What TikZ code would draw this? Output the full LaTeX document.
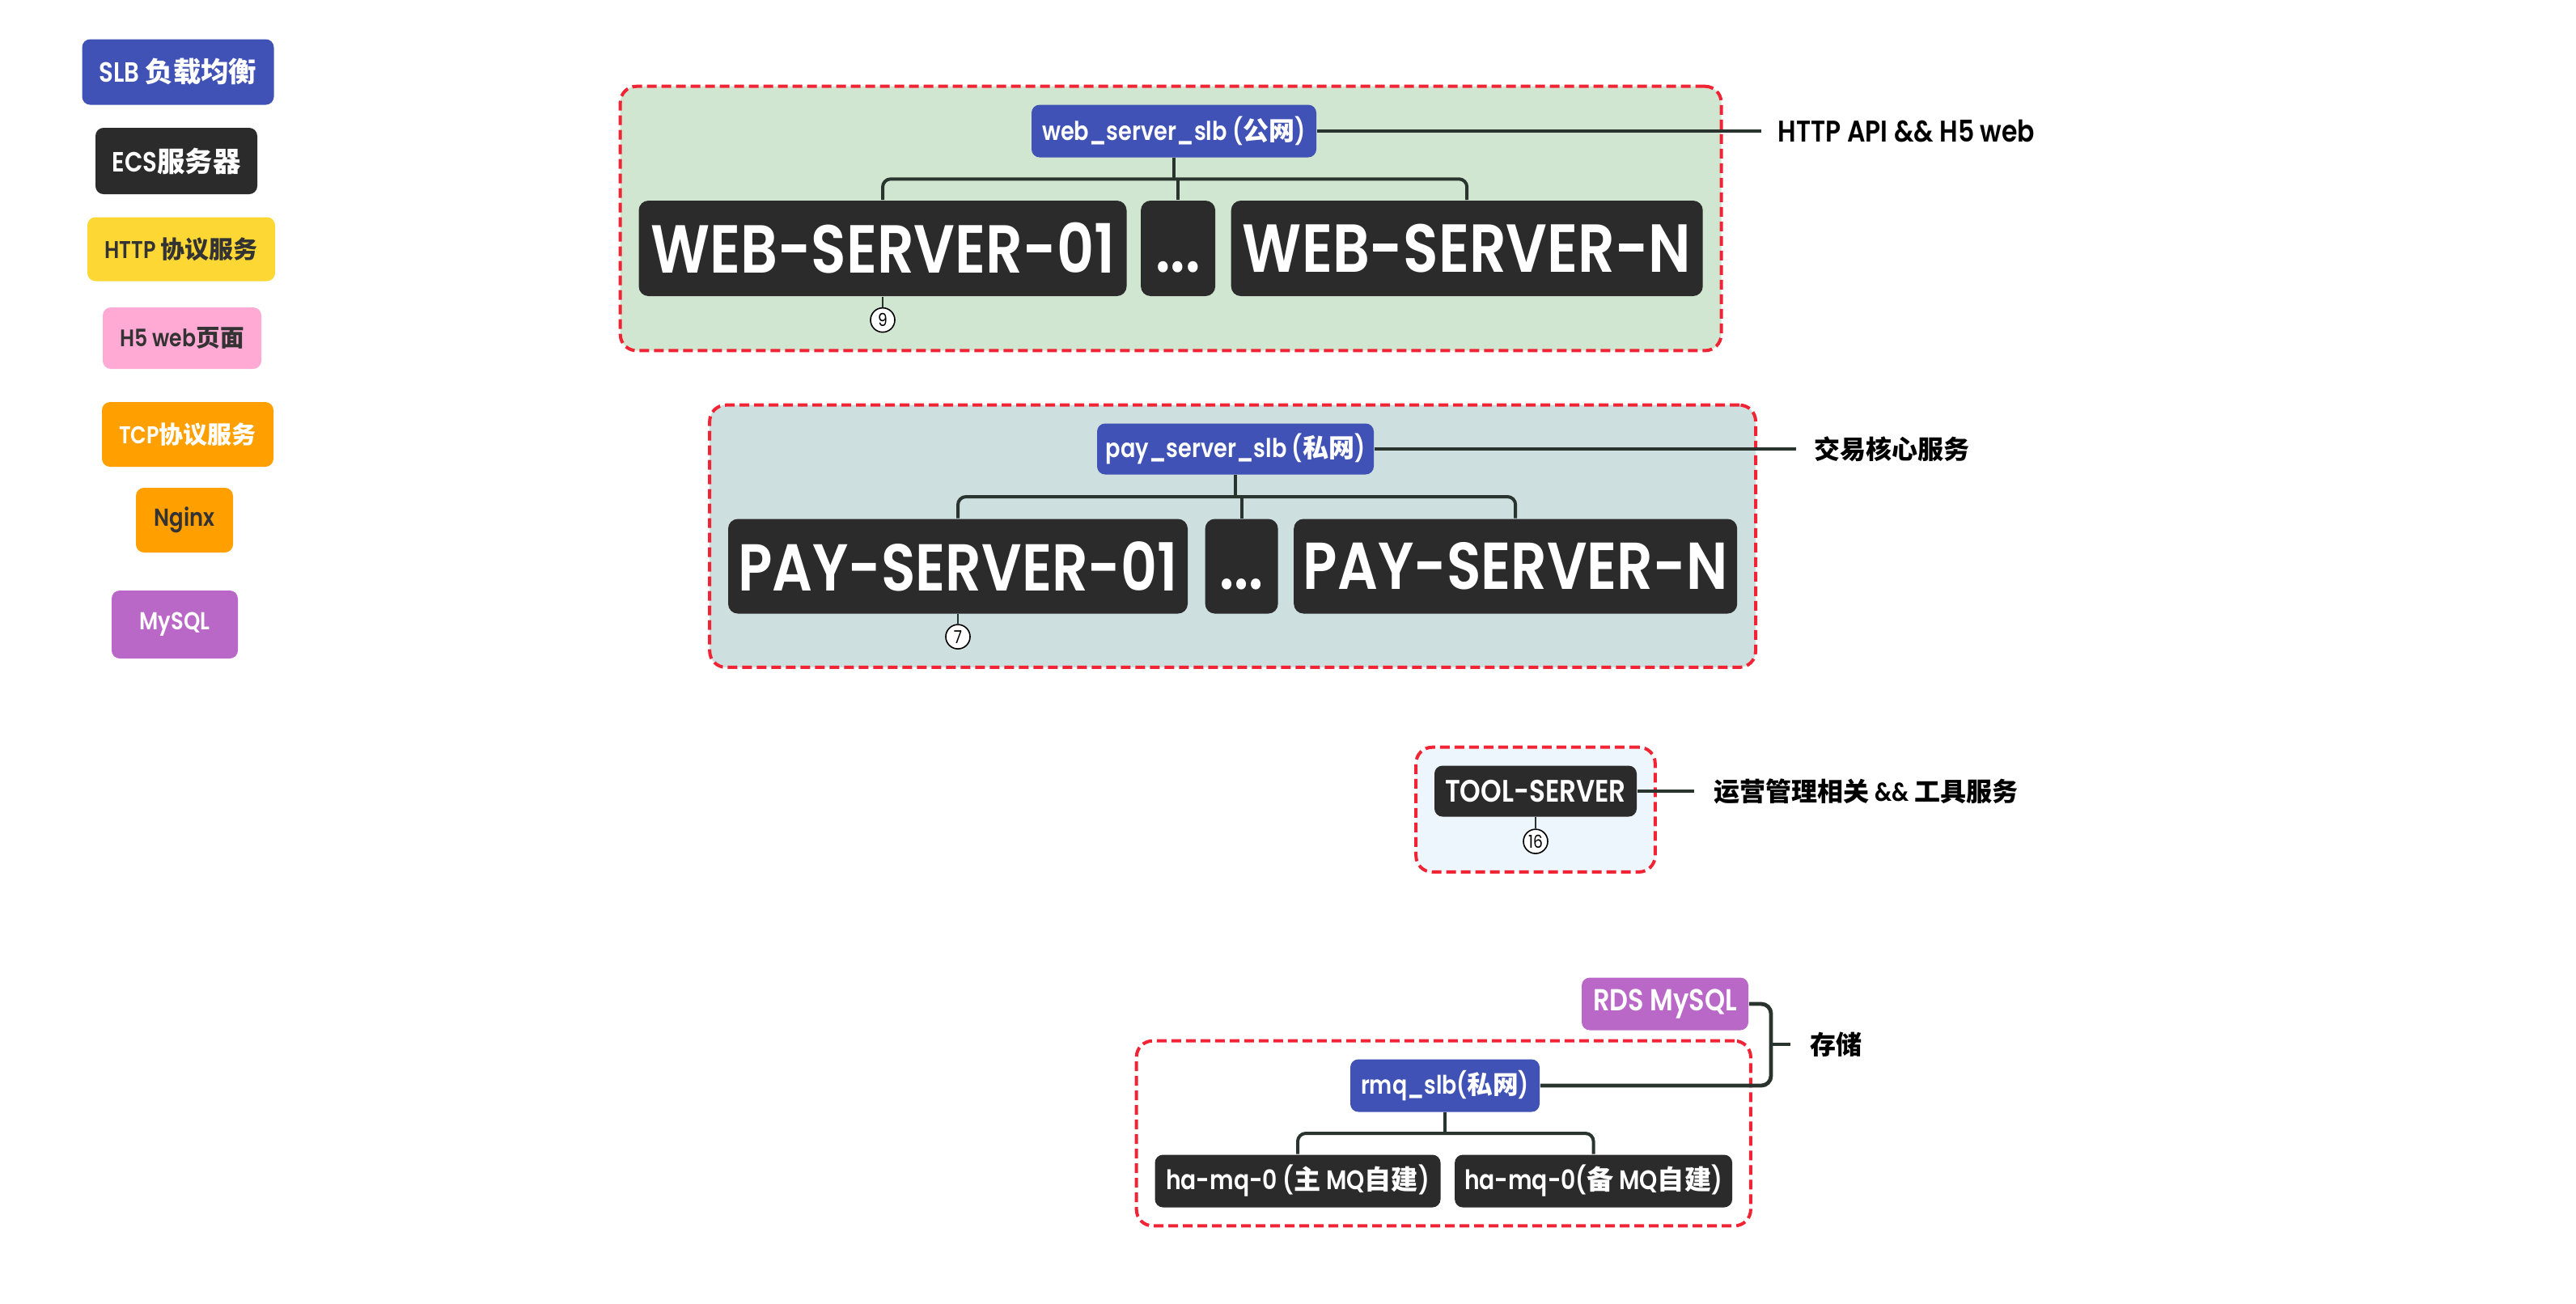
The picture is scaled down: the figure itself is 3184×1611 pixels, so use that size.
\documentclass[tikz,border=0pt]{standalone}
\usepackage{fontspec}
\setmainfont{Poppins}[FakeStretch=0.85, BoldFont={Poppins SemiBold}]
\newfontfamily\zhfont{Noto Sans CJK SC}
\newcommand{\zh}[1]{{\zhfont #1}}
\newcommand{\threedots}{\vphantom{W}\mbox{.}\mbox{.}\mbox{.}}
\usetikzlibrary{positioning,fit,calc,backgrounds}
\definecolor{slbblue}{RGB}{64,82,181}
\definecolor{ecsdark}{RGB}{43,43,43}
\definecolor{httpyellow}{RGB}{253,216,53}
\definecolor{h5pink}{RGB}{255,170,213}
\definecolor{tcporange}{RGB}{255,160,0}
\definecolor{mysqlpurple}{RGB}{186,104,200}
\definecolor{grpred}{RGB}{240,36,52}
\definecolor{webfill}{RGB}{209,230,209}
\definecolor{payfill}{RGB}{205,223,222}
\definecolor{toolfill}{RGB}{236,246,252}
\definecolor{linkink}{RGB}{42,52,46}
\definecolor{darktext}{RGB}{51,51,51}
\tikzset{
  fs/.style={font=\fontsize{#1}{#1}\selectfont\bfseries},
  box/.style={
    rounded corners=2.5pt, inner sep=0pt, align=center, text=white, fs=8.6pt
  },
  slb/.style={box, fill=slbblue},
  ecs/.style={box, fill=ecsdark},
  http/.style={box, fill=httpyellow, text=darktext},
  h5/.style={box, fill=h5pink, text=darktext},
  tcp/.style={box, fill=tcporange},
  nginx/.style={box, fill=tcporange, text=darktext},
  mysql/.style={box, fill=mysqlpurple},
  big/.style={rounded corners=3pt, fs=21pt},
  grp/.style={
    draw=grpred, line width=1pt, dash pattern=on 3pt off 1.5pt,
    rounded corners=5pt, inner sep=5.5pt
  },
  link/.style={draw=linkink, line width=1.2pt},
  tree/.style={draw=linkink, line width=1pt, rounded corners=2.5pt},
  numlink/.style={draw=linkink, line width=0.5pt},
  num/.style={
    circle, draw=black, fill=white, line width=0.4pt, minimum size=7.5pt,
    inner sep=0pt, font=\fontsize{5.5pt}{6pt}\selectfont
  },
  note/.style={anchor=west, inner xsep=5pt, inner ysep=0pt, text=black, fs=8pt}
}
\begin{document}
\begin{tikzpicture}[x=0.25pt, y=-0.25pt]
  \useasboundingbox (0,0) rectangle (3184,1611);
  % legend
  \node[slb, minimum width=59.25pt, minimum height=20.25pt] (legslb) at (220,89) {SLB \zh{负载均衡}};
  \node[ecs, minimum width=50pt, minimum height=20.5pt] (legecs) at (218,199) {ECS\zh{服务器}};
  \node[http, fs=7.5pt, minimum width=58pt, minimum height=19.75pt] (leghttp) at (224,308) {HTTP \zh{协议服务}};
  \node[h5, fs=7.4pt, minimum width=49pt, minimum height=19pt] (legh5) at (225,418) {H5 web\zh{页面}};
  \node[tcp, fs=7.5pt, minimum width=53pt, minimum height=20pt] (legtcp) at (232,537) {TCP\zh{协议服务}};
  \node[nginx, fs=7.6pt, minimum width=30pt, minimum height=20pt] (legnginx) at (228,643) {Nginx};
  \node[mysql, fs=7.6pt, minimum width=39pt, minimum height=21pt] (legmysql) at (216,772) {MySQL};

  % web servers
  \node[slb, fs=8pt, minimum width=88pt, minimum height=16.25pt] (webslb) at (1451,162) {web\_server\_slb (\zh{公网})};
  \node[ecs, big, minimum width=150.75pt, minimum height=29.5pt] (web01) at (1091,307) {WEB-SERVER-01};
  \node[ecs, big, minimum width=23pt, minimum height=29.5pt, right=4pt of web01] (webdots) {\threedots};
  \node[ecs, big, minimum width=145.75pt, minimum height=29.5pt, right=4.5pt of webdots] (webN) {WEB-SERVER-N};
  \node[num, below=3.25pt of web01] (web9) {9};
  \coordinate (webhub) at ($(webslb.south)!0.5!(webdots.north)$);
  \draw[tree] (webslb.south) -- (webslb.south |- webhub);
  \draw[tree] (webhub -| webdots.north) -- (webdots.north);
  \draw[tree] (web01.north) |- (webhub) -| (webN.north);
  \draw[numlink] (web01) -- (web9);
  \node[note, fs=9.25pt] (webnote) at (2177,162) {HTTP API \&\& H5 web};
  \draw[link] (webslb.east) -- (webnote.west);

  % pay servers
  \node[slb, fs=8pt, minimum width=85.5pt, minimum height=15.75pt] (payslb) at (1527,555) {pay\_server\_slb (\zh{私网})};
  \node[ecs, big, fs=20.5pt, minimum width=142pt, minimum height=29.25pt] (pay01) at (1184,700) {PAY-SERVER-01};
  \node[ecs, big, fs=20.5pt, minimum width=22.5pt, minimum height=29.25pt, right=5pt of pay01] (paydots) {\threedots};
  \node[ecs, big, fs=20.5pt, minimum width=137pt, minimum height=29.25pt, right=4.5pt of paydots] (payN) {PAY-SERVER-N};
  \node[num, below=3pt of pay01] (pay7) {7};
  \coordinate (payhub) at ($(payslb.south)!0.5!(paydots.north)$);
  \draw[tree] (payslb.south) -- (payslb.south |- payhub);
  \draw[tree] (payhub -| paydots.north) -- (paydots.north);
  \draw[tree] (pay01.north) |- (payhub) -| (payN.north);
  \draw[numlink] (pay01) -- (pay7);
  \node[note, inner xsep=5.5pt] (paynote) at (2220,555) {\zh{交易核心服务}};
  \draw[link] (payslb.east) -- (paynote.west);

  % tool server
  \node[ecs, fs=9.6pt, minimum width=62.5pt, minimum height=15.75pt] (tool) at (1898,978) {TOOL-SERVER};
  \node[num, below=3.5pt of tool] (tool16) {16};
  \draw[numlink] (tool) -- (tool16);
  \node[note, inner xsep=6pt] (toolnote) at (2094,978) {\zh{运营管理相关} \&\& \zh{工具服务}};
  \draw[link] (tool.east) -- (toolnote.west);

  % storage
  \node[mysql, fs=9.4pt, minimum width=51.5pt, minimum height=16.25pt] (rds) at (2058,1241) {RDS MySQL};
  \node[slb, fs=7.9pt, minimum width=58.5pt, minimum height=16.25pt] (rmqslb) at (1786,1342) {rmq\_slb(\zh{私网})};
  \node[ecs, fs=8.3pt, minimum width=88.25pt, minimum height=16.25pt] (mq1) at (1604,1460) {ha-mq-0 (\zh{主} MQ\zh{自建})};
  \node[ecs, fs=8.3pt, minimum width=85.75pt, minimum height=16.25pt, right=4pt of mq1] (mq2) {ha-mq-0(\zh{备} MQ\zh{自建})};
  \coordinate (mqhub) at ($(rmqslb.south)!0.5!(rmqslb.south |- mq1.north)$);
  \draw[tree] (rmqslb.south) -- (mqhub);
  \draw[tree] (mq1.north) |- (mqhub) -| (mq2.north);
  \coordinate (storebrk) at (2189,1291);
  \node[note, inner xsep=6pt] (storenote) at (2213,1291) {\zh{存储}};
  \draw[link, rounded corners=3pt] (rds.east) -| (storebrk) |- (rmqslb.east);
  \draw[link] (storebrk) -- (storenote.west);

  \begin{scope}[on background layer]
    \fill[white] (0,0) rectangle (3184,1611);
    \node[grp, fill=webfill, fit=(webslb)(web01)(webN)(web9)] (webgrp) {};
    \node[grp, fill=payfill, fit=(payslb)(pay01)(payN)(pay7)] (paygrp) {};
    \node[grp, fill=toolfill, fit=(tool)(tool16)] (toolgrp) {};
    \node[grp, fill=white, fit=(rmqslb)(mq1)(mq2)] (mqgrp) {};
  \end{scope}
\end{tikzpicture}
\end{document}
